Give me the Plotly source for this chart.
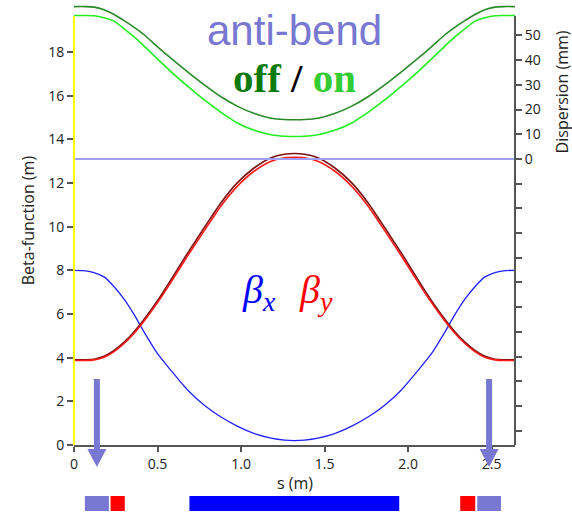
import plotly.graph_objects as go

# ---------------- data ----------------
s = [0.00, 0.07, 0.12, 0.18, 0.24, 0.30, 0.36, 0.42, 0.50, 0.58, 0.68, 0.78, 0.88, 0.98, 1.08, 1.18, 1.26, 1.32,
     1.38, 1.46, 1.56, 1.66, 1.76, 1.86, 1.96, 2.06, 2.14, 2.22, 2.28, 2.34, 2.40, 2.46, 2.52, 2.57, 2.64]

beta_x = [8.00, 7.98, 7.90, 7.70, 7.25, 6.68, 5.97, 5.17, 4.18, 3.42, 2.52, 1.82, 1.28, 0.85, 0.52, 0.31, 0.22, 0.20,
          0.22, 0.31, 0.52, 0.85, 1.28, 1.82, 2.52, 3.42, 4.18, 5.17, 5.97, 6.68, 7.25, 7.70, 7.90, 7.98, 8.00]

beta_y_on = [3.87, 3.87, 3.90, 4.02, 4.28, 4.65, 5.12, 5.68, 6.52, 7.45, 8.66, 9.82, 10.95, 11.87, 12.55, 13.00, 13.16, 13.18,
             13.16, 13.00, 12.55, 11.87, 10.95, 9.82, 8.66, 7.45, 6.52, 5.68, 5.12, 4.65, 4.28, 4.02, 3.90, 3.87, 3.87]

beta_y_off = [3.90, 3.90, 3.93, 4.06, 4.33, 4.71, 5.19, 5.76, 6.61, 7.56, 8.79, 9.96, 11.10, 12.03, 12.70, 13.16, 13.32, 13.35,
              13.32, 13.16, 12.70, 12.03, 11.10, 9.96, 8.79, 7.56, 6.61, 5.76, 5.19, 4.71, 4.33, 4.06, 3.93, 3.90, 3.90]

disp_off = [61.7, 61.7, 61.5, 60.4, 58.5, 56.0, 53.3, 50.3, 45.4, 40.8, 35.3, 30.0, 25.2, 21.3, 18.4, 16.5, 16.0, 15.9,
            16.0, 16.5, 18.4, 21.3, 25.2, 30.0, 35.3, 40.8, 45.4, 50.3, 53.3, 56.0, 58.5, 60.4, 61.5, 61.7, 61.7]

disp_on = [58.1, 58.1, 58.0, 57.2, 55.8, 52.7, 49.4, 45.7, 40.5, 35.4, 29.5, 23.9, 18.9, 14.5, 11.6, 9.8, 9.2, 9.1,
           9.2, 9.8, 11.6, 14.5, 18.9, 23.9, 29.5, 35.4, 40.5, 45.7, 49.4, 52.7, 55.8, 57.2, 58.0, 58.1, 58.1]

disp_ref_s = [0.0, 2.64]
disp_ref = [0, 0]

x_ticks = [0, 0.5, 1.0, 1.5, 2.0, 2.5]
x_ticktext = ["0", "0.5", "1.0", "1.5", "2.0", "2.5"]
y_ticks = [0, 2, 4, 6, 8, 10, 12, 14, 16, 18]
y2_ticks = [0, 10, 20, 30, 40, 50]
y2_minor_ticks = [-110, -100, -90, -80, -70, -60, -50, -40, -30, -20, -10]

# lattice elements (s start, s end, type)
elem_start = [0.065, 0.219, 0.691, 2.312, 2.414]
elem_end = [0.209, 0.304, 1.947, 2.402, 2.556]
elem_type = ["antibend", "quad", "bend", "quad", "antibend"]

# ---------------- styles ----------------
SLATE = "#7878d2"
elem_colors = {"antibend": SLATE, "quad": "#ff0000", "bend": "#0000ff"}
TICKFONT = dict(family="Open Sans", size=14, color="#222222")
TITLEFONT = dict(family="Open Sans", size=16, color="#222222")

fig = go.Figure()
fig.add_trace(go.Scatter(x=disp_ref_s, y=disp_ref, yaxis="y2", mode="lines",
                         line=dict(color="#9f9fff", width=2), showlegend=False))
fig.add_trace(go.Scatter(x=s, y=disp_off, yaxis="y2", mode="lines",
                         line=dict(color="#2a8a2a", width=1.6, shape="spline", smoothing=0.6), showlegend=False))
fig.add_trace(go.Scatter(x=s, y=disp_on, yaxis="y2", mode="lines",
                         line=dict(color="#22ee22", width=1.6, shape="spline", smoothing=0.6), showlegend=False))
fig.add_trace(go.Scatter(x=s, y=beta_x, mode="lines",
                         line=dict(color="#2020ff", width=1.3, shape="spline", smoothing=0.6), showlegend=False))
fig.add_trace(go.Scatter(x=s, y=beta_y_off, mode="lines",
                         line=dict(color="#7a1010", width=1.6, shape="spline", smoothing=0.6), showlegend=False))
fig.add_trace(go.Scatter(x=s, y=beta_y_on, mode="lines",
                         line=dict(color="#ff1a1a", width=1.6, shape="spline", smoothing=0.6), showlegend=False))

shapes = []
# axis lines (left yellow, right gray) limited to the axis extent
shapes.append(dict(type="line", xref="paper", yref="y", x0=0, x1=0, y0=0, y1=19.65,
                   line=dict(color="#ffff00", width=2)))
shapes.append(dict(type="line", xref="paper", yref="y", x0=1, x1=1, y0=0, y1=19.65,
                   line=dict(color="#555555", width=2)))
for a, b, t in zip(elem_start, elem_end, elem_type):
    shapes.append(dict(type="rect", xref="x", yref="paper", x0=a, x1=b, y0=-0.1497, y1=-0.1156,
                       line=dict(width=0), fillcolor=elem_colors[t]))
    if t == "antibend":
        # downward arrow pointing at the anti-bend element
        shapes.append(dict(type="path", xref="x", yref="paper",
                           xsizemode="pixel", ysizemode="pixel",
                           xanchor=(a + b) / 2, yanchor=0,
                           path="M -3,66 L 3,66 L 3,-4 L 9.5,-4 L 0,-22 L -9.5,-4 L -3,-4 Z",
                           line=dict(width=0), fillcolor=SLATE))

annotations = [
    dict(text="anti-bend", xref="x", yref="y", x=1.32, y=19.0, showarrow=False,
         xanchor="center", yanchor="middle",
         font=dict(family="Liberation Sans", size=42, color=SLATE)),
    dict(text="<b><span style='color:#0a7a0a'>off</span> / <span style='color:#33cc33'>on</span></b>",
         xref="x", yref="y", x=1.32, y=16.8, showarrow=False, xanchor="center", yanchor="middle",
         font=dict(family="Liberation Serif", size=41, color="#000000")),
    dict(text="<i>β<sub>x</sub></i>", xref="x", yref="y", x=1.11, y=7.0, showarrow=False,
         xanchor="center", yanchor="middle",
         font=dict(family="Liberation Serif", size=40, color="#0000ff")),
    dict(text="<i>β<sub>y</sub></i>", xref="x", yref="y", x=1.45, y=7.0, showarrow=False,
         xanchor="center", yanchor="middle",
         font=dict(family="Liberation Serif", size=40, color="#ff0000")),
    dict(text="Beta-function (m)", xref="paper", yref="paper", x=-0.104, y=0.51, textangle=-90,
         xanchor="center", yanchor="middle", showarrow=False, font=TITLEFONT),
    dict(text="Dispersion (mm)", xref="paper", yref="paper", x=1.107, y=0.80, textangle=-90,
         xanchor="center", yanchor="middle", showarrow=False, font=TITLEFONT),
    dict(text="s (m)", xref="paper", yref="paper", x=0.501, y=-0.086, showarrow=False,
         xanchor="center", yanchor="middle", font=TITLEFONT),
]

fig.update_layout(
    width=572, height=512,
    margin=dict(l=74, r=57, t=4, b=67),
    paper_bgcolor="white", plot_bgcolor="white",
    xaxis=dict(range=[0, 2.64], tickvals=x_ticks, ticktext=x_ticktext, ticks="outside", ticklen=5,
               tickcolor="#555555", tickwidth=1.5, showline=True, linecolor="#555555", linewidth=2,
               showgrid=False, zeroline=False, tickfont=TICKFONT),
    yaxis=dict(range=[0, 20.2], tickvals=y_ticks, ticks="outside", ticklen=6, tickcolor="#555555",
               tickwidth=1.5, showline=False, showgrid=False, zeroline=False, tickfont=TICKFONT),
    yaxis2=dict(range=[-115.8, 62.75], overlaying="y", side="right", tickvals=y2_ticks,
                ticks="outside", ticklen=6, tickcolor="#555555", tickwidth=1.5,
                minor=dict(tickvals=y2_minor_ticks, ticks="outside", ticklen=6,
                           tickcolor="#555555", tickwidth=1.5, showgrid=False),
                showline=False, showgrid=False, zeroline=False, tickfont=TICKFONT),
    shapes=shapes,
    annotations=annotations,
)

fig.write_html("out.html")
